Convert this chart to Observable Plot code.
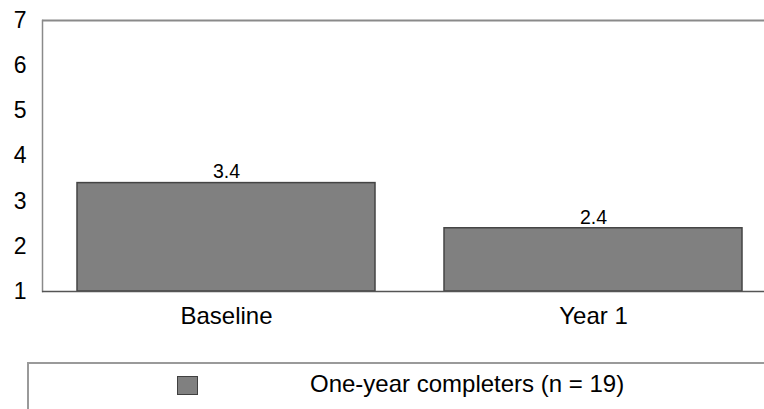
<!DOCTYPE html>
<html>
<head>
<meta charset="utf-8">
<script src="https://cdn.jsdelivr.net/npm/d3@7"></script>
<script src="https://cdn.jsdelivr.net/npm/@observablehq/plot@0.6"></script>
<style>
  html, body { margin: 0; padding: 0; background: #fff; overflow: hidden; }
  body { width: 764px; height: 409px; font-family: "Liberation Sans", Arial, sans-serif; }
  #chart svg { display: block; }
  #legend {
    position: absolute; left: 27px; top: 362px; width: 760px; height: 60px;
    border-top: 2px solid #9a9a9a; border-left: 2px solid #9a9a9a; box-sizing: border-box;
  }
  #legend .sw {
    position: absolute; left: 148px; top: 12px; width: 21px; height: 19px;
    background: #808080; border: 1px solid #404040; box-sizing: border-box;
  }
  #legend .lbl {
    position: absolute; left: 281px; top: 8px; font-size: 24px; line-height: 24px; color: #000; white-space: nowrap;
  }
</style>
</head>
<body>
<div id="chart"></div>
<div id="legend"><div class="sw"></div><div class="lbl"></div></div>
<script>
const categories = ["Baseline", "Year 1"];
const values = [3.4, 2.4];
const yTicks = [1, 2, 3, 4, 5, 6, 7];
const seriesName = "One-year completers (n = 19)";

const data = categories.map((c, i) => ({category: c, value: values[i]}));

const chart = Plot.plot({
  width: 764,
  height: 345,
  marginTop: 20,
  marginBottom: 54,
  marginLeft: 42,
  marginRight: 0,
  style: {fontFamily: "'Liberation Sans', Arial, sans-serif", color: "#000", background: "#fff", overflow: "visible"},
  x: {domain: categories, range: [42, 777], paddingInner: 0.188, paddingOuter: 0.095, label: null},
  y: {domain: [1, 7], label: null},
  marks: [
    Plot.ruleY([7], {stroke: "#8a8a8a", strokeWidth: 2}),
    Plot.frame({anchor: "left", stroke: "#8a8a8a", strokeWidth: 1.5}),
    Plot.barY(data, {x: "category", y1: 1, y2: "value", fill: "#808080", stroke: "#444", strokeWidth: 1.5}),
    Plot.text(data, {x: "category", y: "value", text: d => d.value.toFixed(1), dy: -11, fontSize: 19.5, fill: "#000"}),
    Plot.axisY({ticks: yTicks, tickSize: 0, tickPadding: 16, fontSize: 23, tickFormat: d => String(d)}),
    Plot.axisX({tickSize: 0, tickPadding: 15, fontSize: 24}),
    Plot.ruleY([1], {stroke: "#555", strokeWidth: 1.5})
  ]
});
document.getElementById("chart").appendChild(chart);
document.querySelector("#legend .lbl").textContent = seriesName;
</script>
</body>
</html>
